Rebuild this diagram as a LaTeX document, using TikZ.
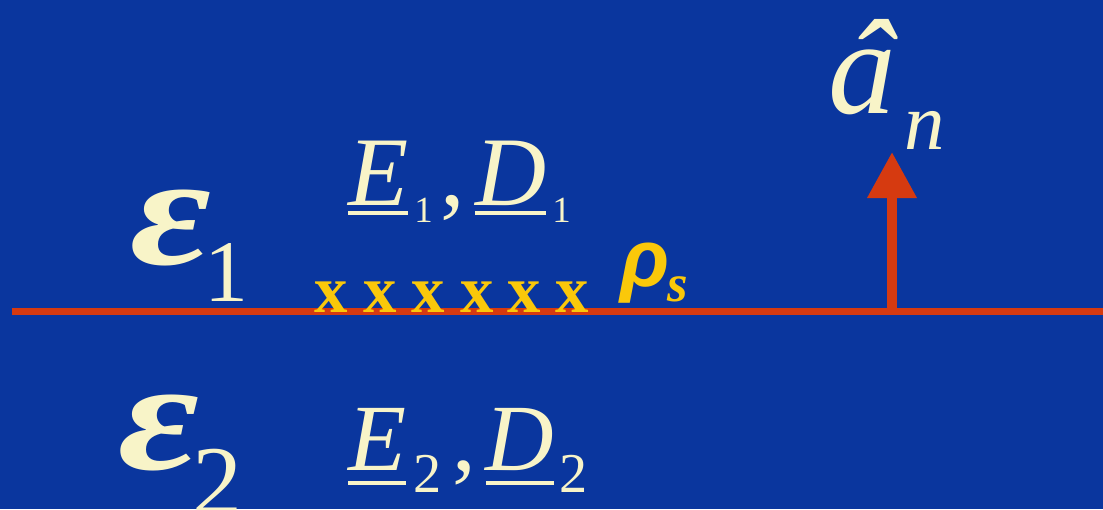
\documentclass[tikz,border=0pt]{standalone}
\usepackage{fontspec}
\setmainfont{Liberation Serif}
\newfontfamily\rhofont{Liberation Sans}
\usepackage{xcolor}
\usetikzlibrary{arrows.meta}

\definecolor{slideblue}{RGB}{10,54,158}
\definecolor{chalk}{RGB}{248,244,200}
\definecolor{wire}{RGB}{214,58,16}
\definecolor{charge}{RGB}{250,200,10}

\newcommand\fs[1]{\fontsize{#1}{#1}\selectfont}
\newcommand\ulvec[2][6pt]{\setbox0\hbox{#2}\rlap{\rule[-#1]{\wd0}{2.3pt}}\box0}
\newcommand\wideeps{\scalebox{1.25}[1]{\bfseries\itshape ε}}

\begin{document}
\begin{tikzpicture}[lbl/.style={inner sep=0pt,text=chalk,anchor=base west}]
  \fill[slideblue] (0,0) rectangle (22.06,-10.18);
  \useasboundingbox (0,0) rectangle (22.06,-10.18);
  \coordinate (wl) at (0.24,-6.23);
  \coordinate (wr) at (22.06,-6.23);
  \draw[wire, line width=4pt] (wl) -- (wr);
  \foreach \i/\xc in {1/6.62,2/7.60,3/8.56,4/9.54,5/10.48,6/11.44}
    \node[lbl, anchor=base, text=charge] (x\i) at (\xc,-6.24) {\fs{38}\bfseries x};
  \node[lbl, text=charge] (rho) at (12.4,-5.72) {\fs{46}\rhofont\bfseries\itshape ρ\kern-1pt\raisebox{-9pt}{\fs{30}\normalfont\bfseries\itshape s}};
  \node[lbl] (eps1) at (2.6,-5.28) {\fs{90}\wideeps\kern-4pt\raisebox{-21.6pt}{\fs{50}\upshape 1}};
  \node[lbl] (eps2) at (2.36,-9.38) {\fs{90}\wideeps\kern-4pt\raisebox{-26.7pt}{\fs{57}\upshape 2}};
  \node[lbl] (ed1) at (6.96,-4.1) {\fs{56}\ulvec[5.7pt]{\itshape E}\kern3.4pt\raisebox{-9.7pt}{\fs{21}1}\kern4.5pt,\kern5.7pt\ulvec[5.7pt]{\itshape D}\kern3.4pt\raisebox{-9.7pt}{\fs{21}1}};
  \node[lbl] (ed2) at (6.96,-9.40) {\fs{54}\ulvec[8.5pt]{\itshape E}\kern4pt\raisebox{-13pt}{\fs{32}2}\kern6pt,\kern5.7pt\ulvec[8.5pt]{\itshape D}\kern3pt\raisebox{-13pt}{\fs{32}2}};
  \coordinate (foot) at (17.84,-6.23);
  \coordinate (tip) at (17.84,-3.04);
  \draw[wire, line width=5.7pt, -{Triangle[length=0.92cm,width=0.94cm]}] (foot) -- (tip);
  \node[lbl] (an) at (16.56,-2.26) {\fs{77}\itshape\rlap{\kern11pt\raisebox{0pt}{\char"02C6}}a\kern5pt\raisebox{-21pt}{\fs{46}n}};
\end{tikzpicture}
\end{document}
